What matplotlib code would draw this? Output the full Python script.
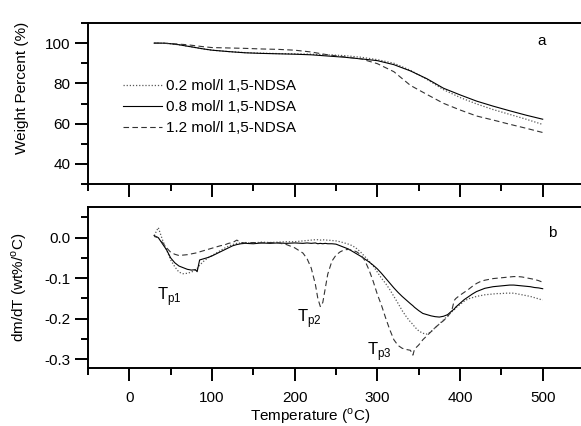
import numpy as np
import matplotlib
matplotlib.use("Agg")
import matplotlib.pyplot as plt
from matplotlib.ticker import MultipleLocator, FuncFormatter

plt.rcParams['font.family'] = ['Liberation Sans', 'DejaVu Sans']
plt.rcParams['mathtext.fontset'] = 'custom'
plt.rcParams['mathtext.rm'] = 'Liberation Sans'
plt.rcParams['axes.unicode_minus'] = False

# --- TGA data (panel a) --- #
tga_T = [30, 40, 50, 60, 70, 80, 90, 100, 120, 140, 160, 180, 200, 220, 240, 260,
         280, 300, 320, 340, 360, 380, 400, 420, 440, 460, 480, 500]
tga_02 = [100, 100, 99.7, 99.2, 98.5, 97.8, 97.1, 96.5, 95.8, 95.3, 95.0, 94.8, 94.7, 94.5,
          94.2, 93.8, 93.0, 91.8, 90.0, 86.5, 82.0, 76.9, 73.0, 69.8, 67.0, 64.6, 62.2, 59.6]
tga_08 = [100, 100, 99.7, 99.2, 98.5, 97.8, 97.1, 96.5, 95.8, 95.2, 94.9, 94.7, 94.5, 94.2,
          93.6, 93.0, 92.2, 91.3, 89.3, 86.2, 82.3, 77.6, 74.3, 71.2, 68.7, 66.4, 64.2, 62.2]
tga_12 = [100, 100, 99.8, 99.5, 99.2, 98.7, 98.2, 97.8, 97.6, 97.4, 97.1, 96.9, 96.5, 95.6,
          94.2, 93.2, 92.2, 89.8, 85.8, 79.0, 74.5, 70.1, 66.8, 63.8, 61.8, 59.7, 57.7, 55.6]

# --- DTG data (panel b) --- #
dtg_T = [30, 35, 40, 45, 50, 55, 60, 65, 70, 75, 80, 82, 85, 90, 95, 100, 105, 110, 115, 120,
         125, 130, 135, 140, 150, 160, 170, 180, 190, 200, 210, 215, 220, 225, 228, 231, 234,
         237, 240, 245, 250, 255, 260, 265, 270, 275, 280, 285, 290, 295, 300, 305, 310, 315,
         320, 325, 330, 335, 340, 343, 345, 350, 355, 360, 365, 370, 375, 380, 385, 390, 393,
         395, 400, 405, 410, 415, 420, 425, 430, 435, 440, 445, 450, 455, 460, 465, 470, 475,
         480, 485, 490, 495, 500]
dtg_02 = [0.005, 0.025, -0.005, -0.030, -0.055, -0.072, -0.085, -0.089, -0.088, -0.085,
          -0.080, -0.076, -0.068, -0.058, -0.050, -0.044, -0.038, -0.032, -0.026, -0.021,
          -0.017, -0.014, -0.013, -0.012, -0.013, -0.011, -0.012, -0.011, -0.010, -0.010,
          -0.008, -0.007, -0.006, -0.005, -0.005, -0.006, -0.005, -0.006, -0.006, -0.007,
          -0.008, -0.010, -0.013, -0.016, -0.020, -0.027, -0.036, -0.047, -0.058, -0.070,
          -0.085, -0.100, -0.113, -0.128, -0.145, -0.162, -0.180, -0.195, -0.208, -0.214,
          -0.220, -0.230, -0.236, -0.238, -0.232, -0.222, -0.213, -0.203, -0.193, -0.183,
          -0.178, -0.173, -0.165, -0.157, -0.151, -0.148, -0.145, -0.143, -0.141, -0.140,
          -0.139, -0.138, -0.138, -0.137, -0.137, -0.137, -0.139, -0.141, -0.143, -0.145,
          -0.148, -0.151, -0.154]
dtg_08 = [0.005, 0.000, -0.015, -0.030, -0.050, -0.062, -0.070, -0.074, -0.078, -0.080,
          -0.079, -0.084, -0.055, -0.052, -0.049, -0.045, -0.040, -0.035, -0.030, -0.025,
          -0.020, -0.017, -0.015, -0.014, -0.015, -0.013, -0.014, -0.013, -0.014, -0.013,
          -0.014, -0.013, -0.014, -0.013, -0.015, -0.014, -0.015, -0.014, -0.015, -0.015,
          -0.016, -0.020, -0.024, -0.028, -0.034, -0.040, -0.046, -0.053, -0.060, -0.068,
          -0.077, -0.088, -0.100, -0.112, -0.124, -0.135, -0.145, -0.154, -0.163, -0.168,
          -0.172, -0.180, -0.187, -0.190, -0.193, -0.195, -0.196, -0.194, -0.190, -0.181,
          -0.176, -0.171, -0.162, -0.153, -0.146, -0.139, -0.133, -0.129, -0.125, -0.123,
          -0.121, -0.120, -0.119, -0.118, -0.117, -0.117, -0.118, -0.119, -0.120, -0.121,
          -0.123, -0.124, -0.126]
dtg_12 = [0.003, 0.000, -0.012, -0.025, -0.036, -0.041, -0.044, -0.043, -0.042, -0.040,
          -0.038, -0.037, -0.035, -0.032, -0.029, -0.026, -0.023, -0.020, -0.018, -0.014,
          -0.012, -0.006, -0.012, -0.013, -0.012, -0.013, -0.012, -0.013, -0.017, -0.025,
          -0.038, -0.052, -0.075, -0.115, -0.150, -0.170, -0.160, -0.125, -0.090, -0.058,
          -0.043, -0.035, -0.030, -0.029, -0.031, -0.035, -0.042, -0.057, -0.080, -0.108,
          -0.140, -0.167, -0.198, -0.227, -0.252, -0.266, -0.273, -0.276, -0.278, -0.290,
          -0.275, -0.265, -0.252, -0.242, -0.232, -0.222, -0.213, -0.205, -0.195, -0.180,
          -0.155, -0.150, -0.142, -0.135, -0.128, -0.120, -0.113, -0.108, -0.105, -0.103,
          -0.101, -0.100, -0.099, -0.098, -0.097, -0.096, -0.096, -0.097, -0.099, -0.101,
          -0.103, -0.106, -0.110]

labels = ['0.2 mol/l 1,5-NDSA', '0.8 mol/l 1,5-NDSA', '1.2 mol/l 1,5-NDSA']
styles = [dict(color='0.35', ls=(0, (1, 1.5)), lw=0.9),
          dict(color='black', ls='-', lw=0.8),
          dict(color='0.2', ls=(0, (5, 3)), lw=0.8)]

fig = plt.figure(figsize=(5.81, 4.26), dpi=100)
ax1 = fig.add_axes([0.1515, 0.568, 0.8537, 0.378])
ax2 = fig.add_axes([0.1515, 0.1354, 0.8537, 0.378])

for y, lab, st in zip([tga_02, tga_08, tga_12], labels, styles):
    ax1.plot(tga_T, y, label=lab, **st)
for y, st in zip([dtg_02, dtg_08, dtg_12], styles):
    ax2.plot(dtg_T, y, **st)

# --- axes styling --- #
for ax in (ax1, ax2):
    ax.set_xlim(-50, 550)
    ax.xaxis.set_major_locator(MultipleLocator(100))
    ax.xaxis.set_minor_locator(MultipleLocator(50))
    ax.tick_params(which='major', direction='out', length=9.5, width=1.4, labelsize=11)
    ax.tick_params(which='minor', direction='out', length=5, width=1.4)
    ax.tick_params(axis='x', pad=7)
    ax.tick_params(axis='y', pad=3)
    for s in ax.spines.values():
        s.set_linewidth(1.4)
    ax.spines['right'].set_visible(False)

ax1.set_ylim(30, 110)
ax1.yaxis.set_major_locator(MultipleLocator(20))
ax1.yaxis.set_minor_locator(MultipleLocator(10))
ax1.tick_params(axis='x', labelbottom=False)
ax1.set_ylabel('Weight Percent (%)', fontsize=11)
ax1.yaxis.set_label_coords(-0.12, 0.6)
ax1.text(0.915, 0.888, 'a', transform=ax1.transAxes, fontsize=11, ha='center', va='center')
ax1.legend(loc='upper left', bbox_to_anchor=(0.07, 0.65), frameon=False, fontsize=11,
           handlelength=2.6, handletextpad=0.2, labelspacing=0.45, borderpad=0, borderaxespad=0)

ax2.set_ylim(-0.3225, 0.075)
ax2.yaxis.set_major_locator(MultipleLocator(0.1))
ax2.yaxis.set_minor_locator(MultipleLocator(0.05))
ax2.yaxis.set_major_formatter(FuncFormatter(lambda v, p: f'{v:.1f}'))
ax2.set_ylabel(r'dm/dT (wt%/$^{\rm o}$C)', fontsize=11)
ax2.yaxis.set_label_coords(-0.12, 0.5)
ax2.set_xlabel(r'Temperature ($^{\rm o}$C)', fontsize=11)
ax2.xaxis.set_label_coords(0.448, -0.235)
ax2.text(0.935, 0.84, 'b', transform=ax2.transAxes, fontsize=11, ha='center', va='center')

ax2.text(34, -0.154, r'T$_{\rm p1}$', fontsize=12)
ax2.text(203, -0.207, r'T$_{\rm p2}$', fontsize=12)
ax2.text(287, -0.29, r'T$_{\rm p3}$', fontsize=12)

fig.savefig('out.png', dpi=100)
